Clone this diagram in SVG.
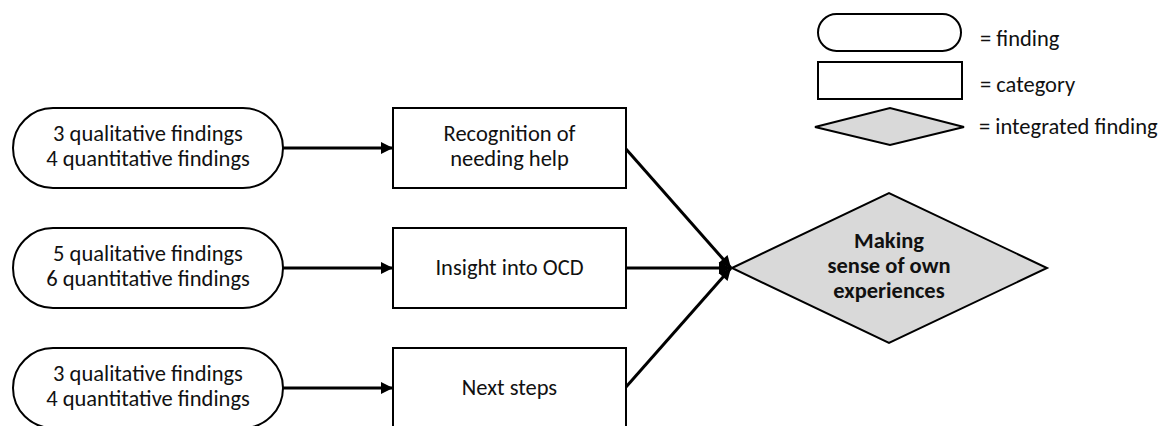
<svg xmlns="http://www.w3.org/2000/svg" width="1168" height="426" viewBox="0 0 1168 426">
  <style>
    .shape { fill: #ffffff; stroke: #000000; stroke-width: 2; }
    .integ { fill: #d9d9d9; stroke: #000000; stroke-width: 2; }
    .lbl { font-family: Carlito, "Liberation Sans", Arial, sans-serif; font-size: 22.5px; fill: #111111; text-anchor: middle; }
    .bold { font-weight: bold; }
    .key { font-family: Carlito, "Liberation Sans", Arial, sans-serif; font-size: 22.5px; fill: #111111; }
    .edge { stroke: #000000; stroke-width: 3; fill: none; marker-end: url(#head); }
  </style>
  <defs>
    <marker id="head" viewBox="0 0 10 10" refX="10" refY="5" markerWidth="4.5" markerHeight="4" markerUnits="strokeWidth" orient="auto">
      <path d="M0,0 L10,5 L0,10 Z" fill="#000000"/>
    </marker>
  </defs>
  <rect width="1168" height="426" fill="#ffffff"/>

  <!-- legend -->
  <g id="legend">
    <rect class="shape" x="818" y="14" width="143" height="37" rx="18.5" ry="18.5"/>
    <text class="key" x="980" y="46">= finding</text>
    <rect class="shape" x="818" y="62" width="144" height="37"/>
    <text class="key" x="980" y="92">= category</text>
    <polygon class="integ" points="815,127 890,108 964,127 890,145"/>
    <text class="key" x="979" y="134">= integrated finding</text>
  </g>

  <!-- connectors -->
  <g id="connectors">
    <line class="edge" x1="283" y1="148" x2="393" y2="148"/>
    <line class="edge" x1="283" y1="268" x2="393" y2="268"/>
    <line class="edge" x1="283" y1="388" x2="393" y2="388"/>
    <line class="edge" x1="626" y1="149" x2="731" y2="268"/>
    <line class="edge" x1="626" y1="268" x2="731" y2="268"/>
    <line class="edge" x1="626" y1="387" x2="731" y2="268"/>
  </g>

  <!-- findings -->
  <g id="finding-1">
    <rect class="shape" x="13" y="108" width="270" height="80" rx="40" ry="40"/>
    <text class="lbl" x="148" y="141">3 qualitative findings</text>
    <text class="lbl" x="148" y="166">4 quantitative findings</text>
  </g>
  <g id="finding-2">
    <rect class="shape" x="13" y="228" width="270" height="80" rx="40" ry="40"/>
    <text class="lbl" x="148" y="261">5 qualitative findings</text>
    <text class="lbl" x="148" y="286">6 quantitative findings</text>
  </g>
  <g id="finding-3">
    <rect class="shape" x="13" y="348" width="270" height="80" rx="40" ry="40"/>
    <text class="lbl" x="148" y="381">3 qualitative findings</text>
    <text class="lbl" x="148" y="406">4 quantitative findings</text>
  </g>

  <!-- categories -->
  <g id="category-recognition">
    <rect class="shape" x="393" y="108" width="233" height="80"/>
    <text class="lbl" x="509.5" y="141">Recognition of</text>
    <text class="lbl" x="509.5" y="166">needing help</text>
  </g>
  <g id="category-insight">
    <rect class="shape" x="393" y="228" width="233" height="80"/>
    <text class="lbl" x="509.5" y="275">Insight into OCD</text>
  </g>
  <g id="category-next">
    <rect class="shape" x="393" y="348" width="233" height="80"/>
    <text class="lbl" x="509.5" y="395">Next steps</text>
  </g>

  <!-- integrated finding -->
  <g id="integrated-finding">
    <polygon class="integ" points="732,268 889,193 1047,268 889,343"/>
    <text class="lbl bold" x="889" y="248">Making</text>
    <text class="lbl bold" x="889" y="273">sense of own</text>
    <text class="lbl bold" x="889" y="298">experiences</text>
  </g>
</svg>
